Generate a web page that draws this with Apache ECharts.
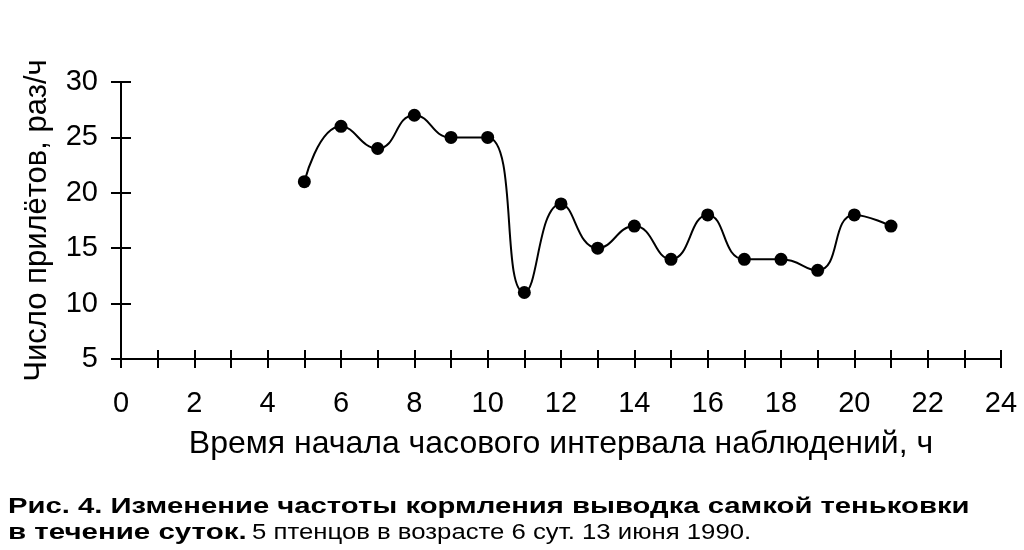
<!DOCTYPE html>
<html>
<head>
<meta charset="utf-8">
<script src="https://cdn.jsdelivr.net/npm/echarts@6/dist/echarts.min.js"></script>
<style>
  html, body { margin: 0; padding: 0; background: #fff; }
  #main { width: 1024px; height: 550px; }
</style>
</head>
<body>
<div id="main"></div>
<script>
  // часы начала интервала и число прилётов
  var hours = [5, 6, 7, 8, 9, 10, 11, 12, 13, 14, 15, 16, 17, 18, 19, 20, 21];
  var visits = [21, 26, 24, 27, 25, 25, 11, 19, 15, 17, 14, 18, 14, 14, 13, 18, 17];
  var xTicks = [0, 24, 1];   // min, max, шаг
  var yTicks = [5, 30, 5];

  var font = 'Liberation Sans, Arial, sans-serif';
  var data = [];
  for (var i = 0; i < hours.length; i++) {
    data.push([hours[i], visits[i]]);
  }

  var myChart = echarts.init(document.getElementById('main'));
  myChart.setOption({
    animation: false,
    backgroundColor: '#fff',
    grid: {
      left: 121,
      right: 23,
      top: 82,
      bottom: 191
    },
    xAxis: [{
      type: 'value',
      min: xTicks[0],
      max: xTicks[1],
      interval: xTicks[2],
      name: 'Время начала часового интервала наблюдений, ч',
      nameLocation: 'middle',
      nameGap: 69,
      nameTextStyle: { color: '#000', fontSize: 32, fontFamily: font },
      axisLine: { lineStyle: { color: '#000', width: 2 } },
      axisTick: { show: true, length: 9, lineStyle: { color: '#000', width: 2 } },
      axisLabel: {
        color: '#000',
        fontSize: 29,
        fontFamily: font,
        margin: 30,
        formatter: function (v) {
          return v % 2 == 0 ? v : '';
        }
      },
      splitLine: { show: false }
    }, {
      // внутренние половинки засечек
      type: 'value',
      position: 'bottom',
      min: xTicks[0],
      max: xTicks[1],
      interval: xTicks[2],
      axisLine: { show: false },
      axisTick: { show: true, inside: true, length: 9, lineStyle: { color: '#000', width: 2 } },
      axisLabel: { show: false },
      splitLine: { show: false }
    }],
    yAxis: [{
      type: 'value',
      min: yTicks[0],
      max: yTicks[1],
      interval: yTicks[2],
      name: 'Число прилётов, раз/ч',
      nameLocation: 'middle',
      nameGap: 68,
      nameRotate: 90,
      nameTextStyle: { color: '#000', fontSize: 31, fontFamily: font },
      axisLine: { show: true, lineStyle: { color: '#000', width: 2 } },
      axisTick: { show: true, length: 10, lineStyle: { color: '#000', width: 2 } },
      axisLabel: { color: '#000', fontSize: 29, fontFamily: font, margin: 23 },
      splitLine: { show: false }
    }, {
      type: 'value',
      position: 'left',
      min: yTicks[0],
      max: yTicks[1],
      interval: yTicks[2],
      axisLine: { show: false },
      axisTick: { show: true, inside: true, length: 10, lineStyle: { color: '#000', width: 2 } },
      axisLabel: { show: false },
      splitLine: { show: false }
    }],
    series: [{
      type: 'line',
      data: data,
      smooth: 0.5,
      symbol: 'circle',
      symbolSize: 13,
      itemStyle: { color: '#000' },
      lineStyle: { color: '#000', width: 2 }
    }],
    graphic: [{
      type: 'text',
      x: 8,
      y: 496,
      scaleX: 1.33,
      style: {
        text: 'Рис. 4. Изменение частоты кормления выводка самкой теньковки',
        font: 'bold 22px ' + font,
        fill: '#000',
        verticalAlign: 'top'
      }
    }, {
      type: 'text',
      x: 8,
      y: 522,
      scaleX: 1.34,
      style: {
        text: 'в течение суток.',
        font: 'bold 22px ' + font,
        fill: '#000',
        verticalAlign: 'top'
      }
    }, {
      type: 'text',
      x: 252,
      y: 522,
      scaleX: 1.17,
      style: {
        text: '5 птенцов в возрасте 6 сут. 13 июня 1990.',
        font: '22px ' + font,
        fill: '#000',
        verticalAlign: 'top'
      }
    }]
  });
</script>
</body>
</html>
